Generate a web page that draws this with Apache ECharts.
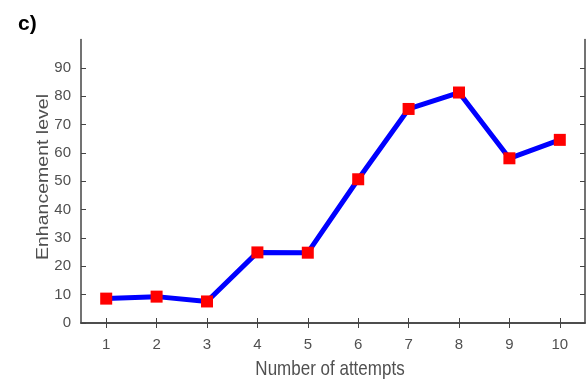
<!DOCTYPE html>
<html><head><meta charset="utf-8">
<script src="https://cdn.jsdelivr.net/npm/echarts@6/dist/echarts.min.js"></script>
<style>html,body{margin:0;padding:0;background:#fff}#c{width:588px;height:385px}</style>
</head><body><div id="c"></div>
<script>
var attempts = [1,2,3,4,5,6,7,8,9,10];
var enhancement = [8.6, 9.3, 7.6, 24.9, 24.8, 50.7, 75.5, 81.3, 58.1, 64.6];
var yTicks = [0,10,20,30,40,50,60,70,80,90];
var xTitle = 'Number of attempts';
var yTitle = 'Enhancement level';

var chart = echarts.init(document.getElementById('c'), null, {renderer:'canvas'});
var lineCol = '#444';
var txt = '#505050';
var font = '"Liberation Sans", Arial, sans-serif';
chart.setOption({
  animation:false,
  title:{text:'c)', left:13, top:9, textStyle:{fontSize:21, fontWeight:'bold', color:'#000', fontFamily:font}},
  grid:{left:81, right:3, top:39.5, bottom:62},
  graphic:[
    {type:'text', x:330, y:369, scaleY:1.18, silent:true,
     style:{text:xTitle, fontSize:17, fill:txt, fontFamily:font, align:'center', verticalAlign:'middle'}},
    {type:'text', x:44, y:177, rotation:Math.PI/2, scaleX:1.22, silent:true,
     style:{text:yTitle, fontSize:16, fill:txt, fontFamily:font, align:'center', verticalAlign:'middle'}}
  ],
  xAxis:[{
    type:'value', min:0.5, max:10.5, position:'bottom',
    axisLine:{show:true, lineStyle:{color:lineCol, width:1.5}},
    axisTick:{show:true, inside:true, length:5, customValues:attempts, lineStyle:{color:lineCol}},
    axisLabel:{customValues:attempts, fontSize:15, color:txt, margin:14, fontFamily:font},
    splitLine:{show:false}
  },{
    type:'value', min:0.5, max:10.5, position:'top',
    axisLine:{show:true, lineStyle:{color:lineCol, width:1.5}},
    axisTick:{show:true, inside:true, length:5, customValues:attempts, lineStyle:{color:lineCol}},
    axisLabel:{show:false}, splitLine:{show:false}
  }],
  yAxis:[{
    type:'value', min:0, max:100, position:'left',
    axisLine:{show:true, lineStyle:{color:lineCol, width:1.5}},
    axisTick:{show:true, inside:true, length:5, customValues:yTicks, lineStyle:{color:lineCol}},
    axisLabel:{customValues:yTicks, fontSize:15, color:txt, margin:10, fontFamily:font},
    splitLine:{show:false}
  },{
    type:'value', min:0, max:100, position:'right',
    axisLine:{show:true, lineStyle:{color:lineCol, width:1.5}},
    axisTick:{show:true, inside:true, length:5, customValues:yTicks, lineStyle:{color:lineCol}},
    axisLabel:{show:false}, splitLine:{show:false}
  }],
  series:[{
    type:'line',
    data: attempts.map(function(a,i){return [a, enhancement[i]];}),
    lineStyle:{color:'#0000ff', width:5},
    itemStyle:{color:'#ff0000'},
    symbol:'rect', symbolSize:12, showSymbol:true
  }]
});
</script></body></html>
